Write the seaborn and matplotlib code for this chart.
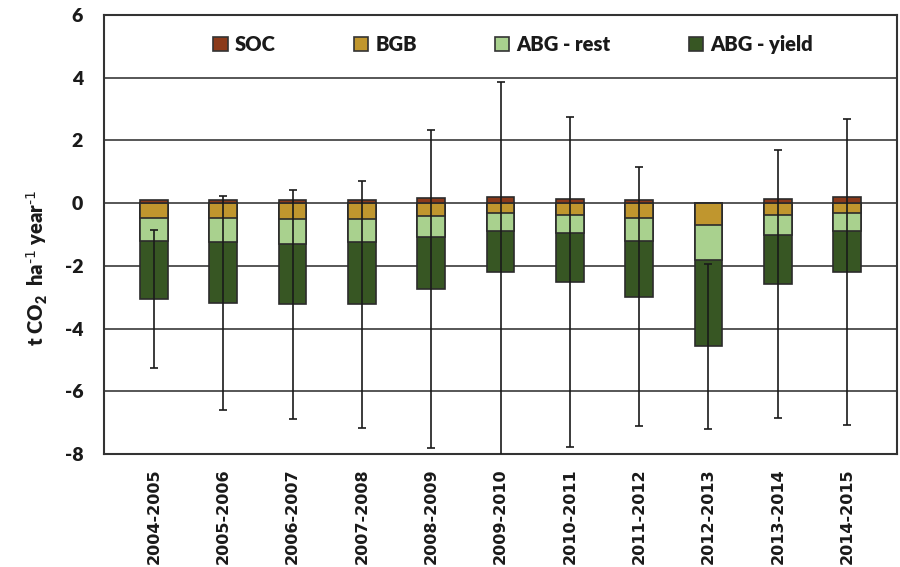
import matplotlib
matplotlib.use("Agg")
import matplotlib.pyplot as plt
from matplotlib.patches import Patch
import numpy as np
import pandas as pd
import seaborn as sns

# Carbon balance components per cropping season (t CO2 ha-1 year-1)
seasons = ["2004-2005", "2005-2006", "2006-2007", "2007-2008", "2008-2009",
           "2009-2010", "2010-2011", "2011-2012", "2012-2013", "2013-2014",
           "2014-2015"]
soc = [0.10, 0.10, 0.10, 0.10, 0.15, 0.19, 0.14, 0.09, 0.00, 0.14, 0.19]
bgb = [-0.47, -0.47, -0.51, -0.51, -0.40, -0.32, -0.37, -0.47, -0.69, -0.37, -0.32]
abg_rest = [-0.74, -0.78, -0.78, -0.74, -0.67, -0.57, -0.59, -0.74, -1.12, -0.65, -0.56]
abg_yield = [-1.86, -1.93, -1.94, -1.98, -1.68, -1.30, -1.56, -1.77, -2.76, -1.55, -1.31]
err = [2.20, 3.42, 3.65, 3.93, 5.07, 6.04, 5.27, 4.14, 2.62, 4.28, 4.87]

series_names = ["SOC", "BGB", "ABG - rest", "ABG - yield"]
series_colors = ["#8B3A1A", "#C0962E", "#A9D18E", "#375623"]
edge = "#2b2b2b"
ink = "#1a1a1a"

sns.set_theme(style="white")
plt.rcParams["font.family"] = ["Lato", "DejaVu Sans"]
plt.rcParams["axes.unicode_minus"] = False
plt.rcParams["mathtext.default"] = "regular"

df = pd.DataFrame({"season": seasons, "SOC": soc, "BGB": bgb,
                   "rest": abg_rest, "yield": abg_yield})
# cumulative depths of the negative stack
df["c_bgb"] = df["BGB"]
df["c_rest"] = df["c_bgb"] + df["rest"]
df["c_yield"] = df["c_rest"] + df["yield"]

fig = plt.figure(figsize=(9, 5.67), dpi=100)
ax = fig.add_axes([0.1156, 0.1993, 0.8811, 0.7742])

layers = [("c_yield", series_colors[3]), ("c_rest", series_colors[2]),
          ("c_bgb", series_colors[1]), ("SOC", series_colors[0])]
for col, color in layers:
    sns.barplot(data=df, x="season", y=col, color=color, saturation=1,
                width=0.4, edgecolor=edge, linewidth=1.2, errorbar=None,
                ax=ax, zorder=3)

ax.errorbar(np.arange(len(seasons)), df["c_yield"], yerr=err, fmt="none",
            ecolor=ink, elinewidth=1.2, capsize=3, capthick=1.2, zorder=4)

ax.set_ylim(-8, 6)
ax.set_yticks(np.arange(-8, 7, 2))
ax.yaxis.grid(True, color="#3a3a3a", linewidth=1.2)
ax.set_axisbelow(True)
for s in ax.spines.values():
    s.set_color("#333333")
    s.set_linewidth(1.5)

ax.set_xlabel("")
ax.set_ylabel(r"t CO$_2$  ha$^{\text{-1}}$ year$^{\text{-1}}$", fontsize=14.5,
              fontweight="heavy", color=ink)
ax.yaxis.set_label_coords(-0.068, 0.424)
ax.tick_params(axis="y", length=0, pad=15, labelsize=14, labelcolor=ink)
ax.tick_params(axis="x", length=0, pad=10)
for lab in ax.get_yticklabels():
    lab.set_fontweight("heavy")
ax.set_xticks(np.arange(len(seasons)))
ax.set_xticklabels(seasons, rotation=90, fontweight="bold", fontsize=11.5,
                   family="DejaVu Sans", color=ink)

handles = [Patch(facecolor=c, edgecolor="#333333", linewidth=1.2)
           for c in series_colors]
leg = ax.legend(handles, series_names, ncol=4, loc="center",
                bbox_to_anchor=(0.516, 0.932), frameon=False,
                prop={"weight": "heavy", "size": 14.5}, handlelength=0.7,
                handleheight=0.7, handletextpad=0.35, columnspacing=3.9)
for t in leg.get_texts():
    t.set_color(ink)

fig.savefig("out.png", dpi=100)
